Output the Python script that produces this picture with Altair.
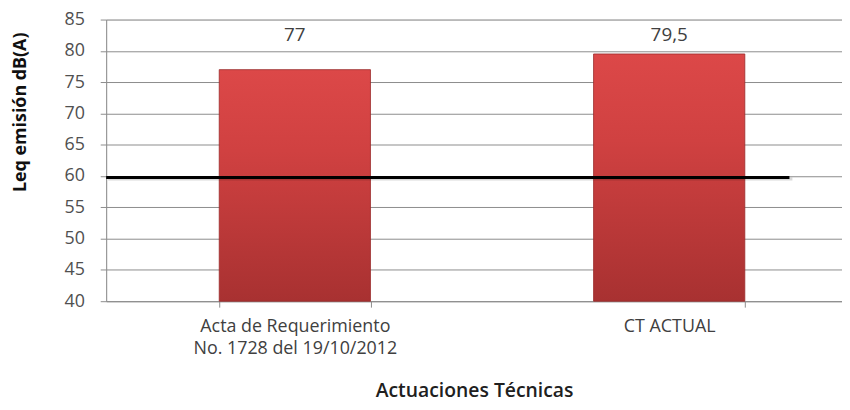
import altair as alt
import pandas as pd

categories = ["Acta de Requerimiento\nNo. 1728 del 19/10/2012", "CT ACTUAL"]
values = [77, 79.5]
labels = ["77", "79,5"]
limit_value = 60

df = pd.DataFrame({"cat": categories, "val": values, "lab": labels})
limit_df = pd.DataFrame({"limit": [limit_value]})

FONT = "Open Sans"
GRAY = "#8c8c8c"
TXT = "#404040"

x_scale = alt.Scale(paddingInner=0.596, paddingOuter=0.302, range=[0, 758])
x_axis = alt.Axis(
    title="Actuaciones Técnicas",
    labelAngle=0,
    labelExpr="split(datum.label, '\\n')",
    labelLineHeight=22,
    labelFontSize=18,
    labelColor=TXT,
    labelFont=FONT,
    labelPadding=11,
    labelBaseline="top",
    labelLimit=0,
    tickBand="extent",
    tickSize=6,
    tickColor=GRAY,
    domainColor=GRAY,
    grid=False,
    titleFont=FONT,
    titleFontSize=19.5,
    titleFontWeight=600,
    titleColor="#202020",
    titleY=90,
    titleX=371,
    titleAnchor="middle",
    titleAlign="center",
    titleBaseline="middle",
)


def xe():
    return alt.X("cat:N", sort=categories, scale=x_scale, axis=x_axis)


y_scale = alt.Scale(domain=[40, 85], nice=False, zero=False)
y_axis = alt.Axis(
    title="Leq emisión dB(A)",
    values=list(range(40, 90, 5)),
    labelFontSize=18,
    labelColor="#505050",
    labelFont=FONT,
    labelPadding=16,
    tickSize=6,
    tickColor=GRAY,
    domainColor=GRAY,
    gridColor=GRAY,
    gridWidth=1,
    titleFont=FONT,
    titleFontSize=18,
    titleFontWeight="bold",
    titleColor="#101010",
    titleX=-86,
    titleY=93,
    titleAlign="center",
    titleBaseline="middle",
    titleAngle=-90,
)


def ye(field):
    return alt.Y(field, scale=y_scale, axis=y_axis)


bar_fill = alt.Gradient(
    gradient="linear",
    stops=[
        alt.GradientStop(color="#dc4848", offset=0),
        alt.GradientStop(color="#d04141", offset=0.35),
        alt.GradientStop(color="#a83131", offset=1),
    ],
    x1=0, x2=0, y1=0, y2=1,
)

bars = alt.Chart(df).mark_bar(
    fill=bar_fill, stroke="#9a2a2a", strokeWidth=0.8
).encode(
    x=xe(),
    y=ye("val:Q"),
    y2=alt.datum(40),
)

text77 = alt.Chart(df).transform_filter(alt.datum.lab == "77").mark_text(
    dy=-35, fontSize=19, font=FONT, color=TXT
).encode(x=xe(), y=ye("val:Q"), text="lab:N")

text795 = alt.Chart(df).transform_filter(alt.datum.lab == "79,5").mark_text(
    dy=-19, fontSize=19, font=FONT, color=TXT
).encode(x=xe(), y=ye("val:Q"), text="lab:N")

shadow = alt.Chart(limit_df).mark_rule(
    color="#000000", strokeWidth=3, opacity=0.15, yOffset=3
).encode(y=ye("limit:Q"), x=alt.value(2), x2=alt.value(692))

limit = alt.Chart(limit_df).mark_rule(color="#000000", strokeWidth=3, yOffset=1.5).encode(
    y=ye("limit:Q"), x=alt.value(0), x2=alt.value(689)
)

chart = alt.layer(bars, shadow, limit, text77, text795).properties(
    width=742,
    height=284,
    autosize=alt.AutoSizeParams(type="none"),
    padding={"left": 99, "top": 10, "right": 0, "bottom": 100},
).configure_view(strokeWidth=0, stroke="transparent").configure(background="white")

chart.save("out.html", embed_options={"renderer": "svg", "actions": False})
